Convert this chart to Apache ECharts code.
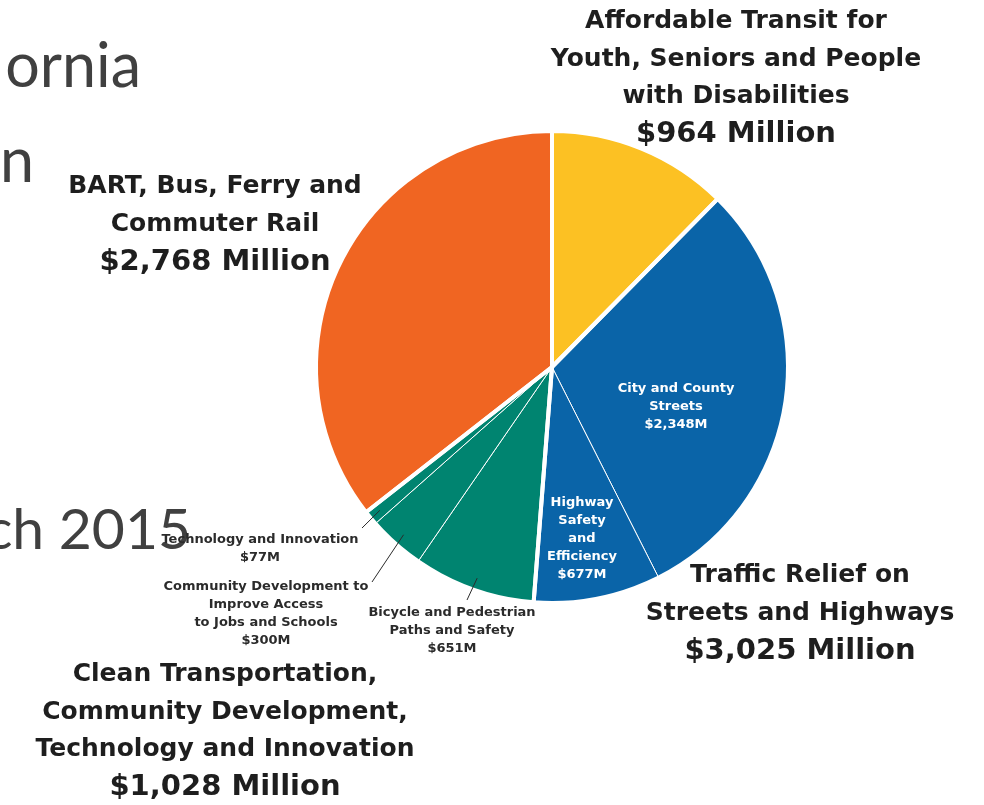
<!DOCTYPE html>
<html>
<head>
<meta charset="utf-8">
<script src="https://cdn.jsdelivr.net/npm/echarts@6/dist/echarts.min.js"></script>
<style>
  html, body { margin: 0; padding: 0; background: #fff; }
  #pie-chart { width: 984px; height: 805px; }
</style>
</head>
<body>
<div id="pie-chart"></div>
<script>
// slices, clockwise from 12 o'clock ($ millions)
var itemNames = [
  'Affordable Transit',
  'City and County\nStreets',
  'Highway\nSafety\nand\nEfficiency',
  'Bicycle and Pedestrian\nPaths and Safety',
  'Community Development to\nImprove Access\nto Jobs and Schools',
  'Technology and Innovation',
  'BART, Bus, Ferry and Commuter Rail'
]
var itemValues = [964, 2348, 677, 651, 300, 77, 2768]
var itemColors = ['#fcc123', '#0a64a8', '#0a64a8', '#008470', '#008470', '#008470', '#f06522']

// the four big programme groups (same order)
var groupNames = [
  'Affordable Transit for\nYouth, Seniors and People\nwith Disabilities',
  'Traffic Relief on\nStreets and Highways',
  'Clean Transportation,\nCommunity Development,\nTechnology and Innovation',
  'BART, Bus, Ferry and\nCommuter Rail'
]
var groupValues = [964, 3025, 1028, 2768]

// where the labels sit
var groupLabelX = [736, 800, 225, 215]
var groupLabelY = [3, 557, 656, 168]
var itemLabelX = [0, 676, 582, 452, 266, 260, 0]
var itemLabelY = [0, 380, 494, 604, 578, 531, 0]
var itemLabelKind = ['none', 'inside', 'inside', 'outside', 'outside', 'outside', 'none']
// end of each leader line, next to its label
var leaderEndX = [0, 0, 0, 467, 372, 362, 0]
var leaderEndY = [0, 0, 0, 600, 582, 528, 0]

var FONT = '"DejaVu Sans", sans-serif'
var GHOST = 'Lato, sans-serif'
var center = [552, 367]
var radius = 236

function fmtNum(v) {
  return v.toLocaleString('en-US')
}

var chart = echarts.init(document.getElementById('pie-chart'))

// leader line starts a little inside the slice, on its middle angle
function leaderPoints(i) {
  var total = 0, before = 0
  itemValues.forEach(function (v, k) {
    total += v
    if (k < i) before += v
  })
  var mid = -Math.PI / 2 + (before + itemValues[i] / 2) / total * Math.PI * 2
  var r = radius - 12
  return [
    [center[0] + r * Math.cos(mid), center[1] + r * Math.sin(mid)],
    [leaderEndX[i], leaderEndY[i]]
  ]
}

function itemLabelLayout(p) {
  var out = {
    x: itemLabelX[p.dataIndex],
    y: itemLabelY[p.dataIndex],
    align: 'center',
    verticalAlign: 'top'
  }
  if (itemLabelKind[p.dataIndex] === 'outside') out.labelLinePoints = leaderPoints(p.dataIndex)
  return out
}

var smallLabel = {
  fontFamily: FONT,
  fontWeight: 'bold',
  fontSize: 13,
  lineHeight: 18,
  align: 'center',
  formatter: function (p) {
    return p.name + '\n$' + fmtNum(p.value) + 'M'
  }
}

// coloured slices, thin white lines, labels inside
var fillData = itemNames.map(function (name, i) {
  return {
    name: name,
    value: itemValues[i],
    itemStyle: { color: itemColors[i] },
    label: { show: itemLabelKind[i] === 'inside', color: '#ffffff' }
  }
})

// same slices, see-through, carrying the outside labels and leader lines
var calloutData = itemNames.map(function (name, i) {
  var out = itemLabelKind[i] === 'outside'
  return {
    name: name,
    value: itemValues[i],
    label: { show: out, color: '#2b2b2b' },
    labelLine: { show: out }
  }
})

var groupData = groupNames.map(function (name, i) {
  return { name: name, value: groupValues[i] }
})

var pieBase = {
  type: 'pie',
  center: center,
  radius: radius,
  startAngle: 90,
  clockwise: true,
  avoidLabelOverlap: false,
  emphasis: { disabled: true }
}

var option = {
  backgroundColor: '#ffffff',
  animation: false,
  graphic: [
    // pieces of the slide title behind the chart
    { type: 'text', style: { text: 'ornia', x: 141, y: 37, align: 'right', verticalAlign: 'alphabetic', font: '400 61px ' + GHOST, fill: '#404040' } },
    { type: 'text', style: { text: 'n', x: 34, y: 132, align: 'right', verticalAlign: 'alphabetic', font: '400 61px ' + GHOST, fill: '#404040' } },
    { type: 'text', style: { text: 'ch 2015', x: 191, y: 502, align: 'right', verticalAlign: 'alphabetic', font: '400 57px ' + GHOST, fill: '#404040' } }
  ],
  series: [
    Object.assign({}, pieBase, {
      name: 'items',
      z: 2,
      itemStyle: { borderColor: '#ffffff', borderWidth: 1 },
      label: Object.assign({ position: 'inside' }, smallLabel),
      labelLine: { show: false },
      labelLayout: itemLabelLayout,
      data: fillData
    }),
    Object.assign({}, pieBase, {
      name: 'groups',
      z: 3,
      itemStyle: { color: 'rgba(0,0,0,0)', borderColor: '#ffffff', borderWidth: 4 },
      label: {
        show: true,
        position: 'outside',
        align: 'center',
        color: '#1e1e1e',
        formatter: function (p) {
          return '{n|' + p.name + '}\n{v|$' + fmtNum(p.value) + ' Million}'
        },
        rich: {
          n: { fontFamily: FONT, fontWeight: 'bold', fontSize: 25, lineHeight: 37.5, color: '#1e1e1e', align: 'center' },
          v: { fontFamily: FONT, fontWeight: 'bold', fontSize: 29, lineHeight: 38, color: '#1e1e1e', align: 'center' }
        }
      },
      labelLine: { show: false },
      labelLayout: function (p) {
        return {
          x: groupLabelX[p.dataIndex],
          y: groupLabelY[p.dataIndex],
          align: 'center',
          verticalAlign: 'top'
        }
      },
      data: groupData
    }),
    Object.assign({}, pieBase, {
      name: 'callouts',
      z: 4,
      silent: true,
      itemStyle: { color: 'rgba(0,0,0,0)', borderWidth: 0 },
      label: Object.assign({ position: 'outside' }, smallLabel),
      labelLine: {
        showAbove: true,
        length: 12,
        length2: 0,
        lineStyle: { color: '#2b2b2b', width: 1 }
      },
      labelLayout: itemLabelLayout,
      data: calloutData
    })
  ]
}

chart.setOption(option)
</script>
</body>
</html>
